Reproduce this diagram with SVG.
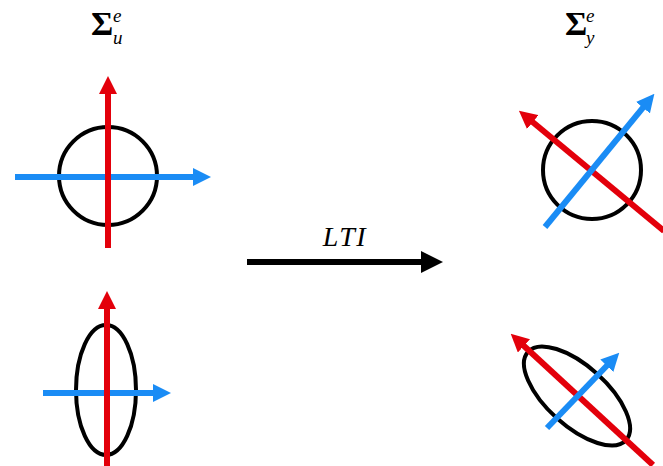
<svg xmlns="http://www.w3.org/2000/svg" width="663" height="466" viewBox="0 0 663 466">
<style>
.shape{fill:none;stroke:#000;stroke-width:4}
.red{stroke:#e3000b;stroke-width:6;fill:none}
.blue{stroke:#1a8cf5;stroke-width:6;fill:none}
.sig{font-family:"Liberation Serif",serif;font-weight:bold;font-size:34px;fill:#000}
.it{font-family:"Liberation Serif",serif;font-style:italic;fill:#000}
</style>
<defs>
<marker id="hr" viewBox="0 0 18 18" refX="1" refY="9" markerWidth="18" markerHeight="18" markerUnits="userSpaceOnUse" orient="auto"><path d="M0,0 L18,9 L0,18 z" fill="#e3000b"/></marker>
<marker id="hb" viewBox="0 0 18 18" refX="1" refY="9" markerWidth="18" markerHeight="18" markerUnits="userSpaceOnUse" orient="auto"><path d="M0,0 L18,9 L0,18 z" fill="#1a8cf5"/></marker>
</defs>
<g id="label-u">
<text class="sig" x="91" y="35">Σ</text>
<text class="it" x="113" y="22" font-size="19">e</text>
<text class="it" x="113" y="44" font-size="19">u</text>
</g>
<g id="label-y">
<text class="sig" x="565" y="35">Σ</text>
<text class="it" x="586" y="22" font-size="19">e</text>
<text class="it" x="586" y="44" font-size="19">y</text>
</g>
<g id="input-circle">
<circle class="shape" cx="108" cy="176" r="49"/>
<line class="blue" x1="15" y1="177" x2="194" y2="177" marker-end="url(#hb)"/>
<line class="red" x1="108" y1="248" x2="108" y2="93" marker-end="url(#hr)"/>
</g>
<g id="output-circle">
<circle class="shape" cx="592" cy="170" r="49"/>
<line class="red" x1="664" y1="231" x2="532" y2="121.5" marker-end="url(#hr)"/>
<line class="blue" x1="545" y1="227" x2="643.6" y2="106.9" marker-end="url(#hb)"/>
</g>
<g id="input-ellipse">
<ellipse class="shape" cx="106" cy="390" rx="30" ry="65"/>
<line class="blue" x1="43" y1="393" x2="154" y2="393" marker-end="url(#hb)"/>
<line class="red" x1="107" y1="466" x2="107" y2="308" marker-end="url(#hr)"/>
</g>
<g id="output-ellipse">
<ellipse class="shape" cx="0" cy="0" rx="66" ry="30" transform="translate(577 396) rotate(42)"/>
<line class="red" x1="653" y1="465" x2="523.2" y2="345.2" marker-end="url(#hr)"/>
<line class="blue" x1="547" y1="428" x2="607.5" y2="365" marker-end="url(#hb)"/>
</g>
<g id="connectors">
<line x1="247" y1="262" x2="423" y2="262" stroke="#000" stroke-width="6"/>
<path d="M421,251 L443,262 L421,273 z" fill="#000"/>
<text class="it" x="345" y="246" font-size="28" letter-spacing="1.5" text-anchor="middle">LTI</text>
</g>
</svg>
